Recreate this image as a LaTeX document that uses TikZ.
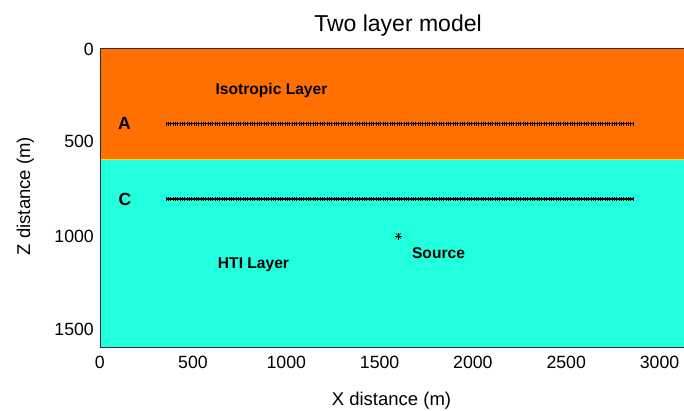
\documentclass[tikz,border=0pt]{standalone}
\usepackage{fontspec}
\usetikzlibrary{calc}
\setmainfont{Liberation Sans}
\definecolor{isoorange}{RGB}{255,112,0}
\definecolor{hticyan}{RGB}{34,255,222}
\definecolor{framegray}{RGB}{45,45,45}
\definecolor{interface}{RGB}{255,215,0}
\begin{document}
\begin{tikzpicture}[x=1pt,y=-1pt,
  titlefont/.style={font=\fontsize{23}{27}\selectfont, inner sep=0pt},
  axislabel/.style={font=\fontsize{18.5}{22}\selectfont, inner sep=0pt},
  ticklabel/.style={font=\fontsize{17.7}{21}\selectfont, inner sep=0pt},
  layerlabel/.style={font=\fontsize{15.6}{19}\selectfont\bfseries, inner sep=0pt},
  linelabel/.style={font=\fontsize{17.6}{21}\selectfont\bfseries, inner sep=0pt},
  rcvtick/.style={draw=black, line width=0.9pt},
  rcvline/.style={draw=black, line width=1.3pt},
  srcmark/.style={draw=black, line width=0.6pt}]
\useasboundingbox (0,0) rectangle (684,410);
\fill[white] (0,0) rectangle (684,410);

% layers
\fill[isoorange] (100,48) rectangle (684,159.5);
\fill[hticyan] (100,159.5) rectangle (684,347);
\draw[interface, line width=1pt] (100,159.5) -- (684,159.5);

% axes frame
\draw[framegray, line width=0.8pt] (684,48) -- (100,48) -- (100,347) -- (684,347);

% receiver lines at 400 m and 800 m
\coordinate (a0) at (166,123.7);
\coordinate (a1) at (633,123.7);
\coordinate (c0) at (166,199);
\coordinate (c1) at (633,199);
\draw[rcvline] (a0) -- (a1);
\draw[rcvline] (c0) -- (c1);
\foreach \i in {0,...,200}{
  \draw[rcvtick] ($(a0)+(\i*2.335,-2)$) -- ++(0,4);
  \draw[rcvtick] ($(c0)+(\i*2.335,-2)$) -- ++(0,4);
}

% source
\coordinate (src) at (398.3,236);
\draw[srcmark] ($(src)+(-3.5,0)$) -- ($(src)+(3.5,0)$);
\draw[srcmark] ($(src)+(0,-3.5)$) -- ($(src)+(0,3.5)$);
\draw[srcmark] ($(src)+(-2.5,-2.5)$) -- ($(src)+(2.5,2.5)$);
\draw[srcmark] ($(src)+(-2.5,2.5)$) -- ($(src)+(2.5,-2.5)$);

% labels inside the model
\node[layerlabel, anchor=base] (iso) at (271.5,94.3) {Isotropic Layer};
\node[linelabel, anchor=base] (lblA) at (124.5,129.8) {A};
\node[linelabel, anchor=base] (lblC) at (125,205) {C};
\node[layerlabel, anchor=base] (hti) at (253.5,268.3) {HTI Layer};
\node[layerlabel, anchor=base] (srclbl) at (438.5,258.3) {Source};

% title and axis labels
\node[titlefont, anchor=base] (title) at (398,31.7) {Two layer model};
\node[axislabel, anchor=base] (xlab) at (391.5,405) {X distance (m)};
\node[axislabel, rotate=90, anchor=base] (zlab) at (30,196) {Z distance (m)};

% x tick labels
\foreach \v/\px in {0/99.7,500/193,1000/286.3,1500/379.6,2000/472.9,2500/566.2,3000/659.5}{
  \node[ticklabel, anchor=base] (xt\v) at (\px,368.3) {\v};
}
% z tick labels
\foreach \v/\py in {0/55,500/147.3,1000/242.3,1500/335.7}{
  \node[ticklabel, anchor=base east] (zt\v) at (94,\py) {\v};
}
\end{tikzpicture}
\end{document}
